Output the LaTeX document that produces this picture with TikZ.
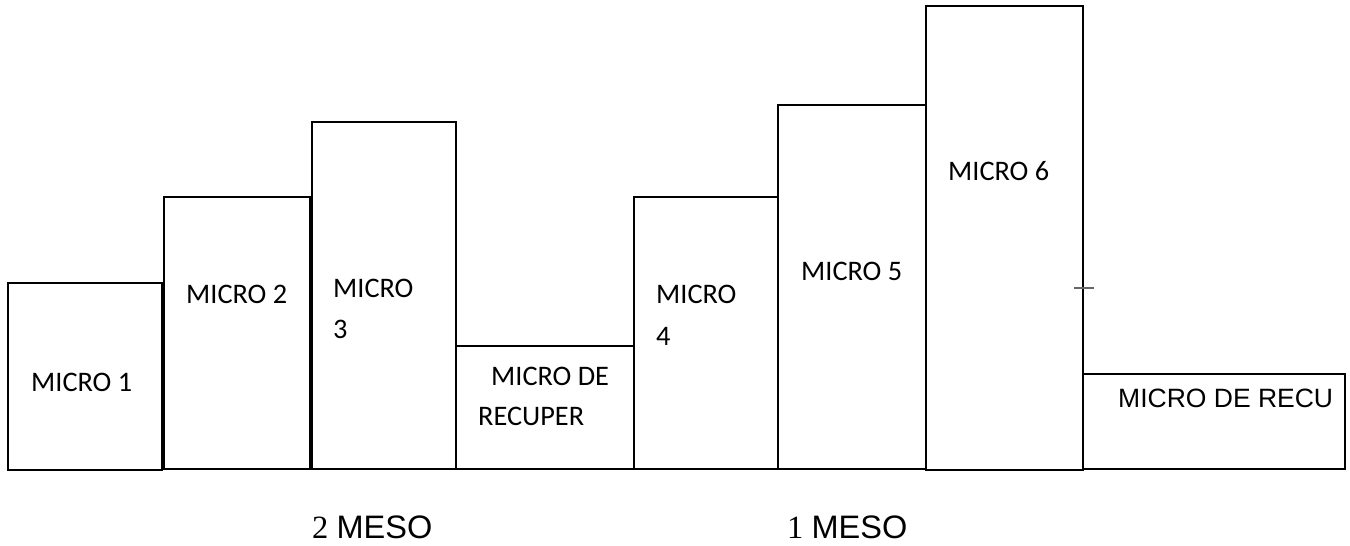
\documentclass[tikz,border=0pt]{standalone}
\usepackage{fontspec}
\newfontfamily\calibrifont{Carlito}
\newfontfamily\arialfont{Liberation Sans}
\newfontfamily\timesfont{Liberation Serif}
\begin{document}
\begin{tikzpicture}[x=1pt,y=-1pt,
  bar/.style={draw=black,line width=1.6pt,fill=white,inner sep=0pt,outer sep=0pt,anchor=north west},
  lbl/.style={anchor=base west,inner sep=0pt,font=\calibrifont\fontsize{28.3pt}{33pt}\selectfont},
  lblarial/.style={anchor=base west,inner sep=0pt,font=\arialfont\fontsize{26.5pt}{31pt}\selectfont},
  meso/.style={anchor=base west,inner sep=0pt,font=\fontsize{32.5pt}{36pt}\selectfont}]
\useasboundingbox[fill=white] (0,0) rectangle (1350,546);

% bars of the cycle
\node[bar,minimum width=154pt,minimum height=187pt] (b1) at (8,283) {};
\node[bar,minimum width=146pt,minimum height=272pt] (b2) at (164,197) {};
\node[bar,minimum width=144pt,minimum height=347pt] (b3) at (312,122) {};
\node[bar,minimum width=178pt,minimum height=123pt] (b4) at (456,346) {};
\node[bar,minimum width=144pt,minimum height=272pt] (b5) at (634,197) {};
\node[bar,minimum width=148pt,minimum height=364pt] (b6) at (778,105) {};
\node[bar,minimum width=157pt,minimum height=464pt] (b7) at (926,6) {};
\node[bar,minimum width=262pt,minimum height=95pt] (b8) at (1083,374) {};

% labels inside the bars
\node[lbl] (t1) at (31,391) {MICRO 1};
\node[lbl] (t2) at (186,303) {MICRO 2};
\node[lbl] (t3a) at (333,297) {MICRO};
\node[lbl] (t3b) at (333,338) {3};
\node[lbl] (t4a) at (491,385) {MICRO DE};
\node[lbl] (t4b) at (478,425) {RECUPER};
\node[lbl] (t5a) at (656,303) {MICRO};
\node[lbl] (t5b) at (656,345) {4};
\node[lbl] (t6) at (801,280) {MICRO 5};
\node[lbl] (t7) at (948,180) {MICRO 6};
\node[lblarial] (t8) at (1118,407) {MICRO DE RECU};

% small tick on the right edge of the tallest bar
\coordinate (tickL) at (1074,288);
\coordinate (tickR) at (1094,288);
\draw[black!60,line width=1.3pt] (tickL) -- (tickR);

% meso labels
\node[meso] (m2) at (312,538) {\timesfont 2 \arialfont MESO};
\node[meso] (m1) at (787,538) {\timesfont 1 \arialfont MESO};
\end{tikzpicture}
\end{document}
